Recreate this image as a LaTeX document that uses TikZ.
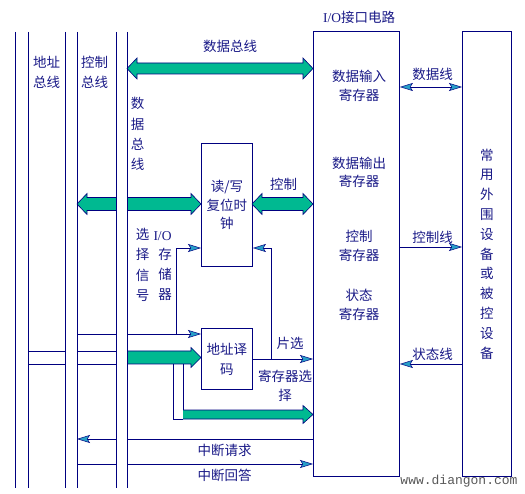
\documentclass[tikz,border=0pt]{standalone}
\usepackage{fontspec}
\setmainfont{Liberation Serif}
\newfontfamily\cjk{Noto Sans CJK SC}
\newfontfamily\wmfont{Liberation Mono}
\usetikzlibrary{arrows.meta}
\definecolor{navy}{RGB}{0,0,128}
\definecolor{txt}{RGB}{25,25,135}
\definecolor{fat}{RGB}{0,185,145}
\definecolor{tipc}{RGB}{40,160,200}
% fat arrows: x1, x2, y, half shaft, half head
\newcommand\myfatR[5]{%
 \fill[fat] (#1,#3-#4) -- (#2-10,#3-#4) -- (#2-10,#3-#5) -- (#2,#3) -- (#2-10,#3+#5) -- (#2-10,#3+#4) -- (#1,#3+#4) -- cycle;
 \draw[fatline] (#1,#3-#4) -- (#2-10,#3-#4) -- (#2-10,#3-#5) -- (#2,#3) -- (#2-10,#3+#5) -- (#2-10,#3+#4) -- (#1,#3+#4);}
\newcommand\myfatL[5]{%
 \fill[fat] (#2,#3-#4) -- (#1+10,#3-#4) -- (#1+10,#3-#5) -- (#1,#3) -- (#1+10,#3+#5) -- (#1+10,#3+#4) -- (#2,#3+#4) -- cycle;
 \draw[fatline] (#2,#3-#4) -- (#1+10,#3-#4) -- (#1+10,#3-#5) -- (#1,#3) -- (#1+10,#3+#5) -- (#1+10,#3+#4) -- (#2,#3+#4);}
\newcommand\myfatD[5]{%
 \filldraw[fat, draw=navy, line width=0.6pt] (#1,#3) -- (#1+10,#3-#5) -- (#1+10,#3-#4) -- (#2-10,#3-#4) -- (#2-10,#3-#5) -- (#2,#3) -- (#2-10,#3+#5) -- (#2-10,#3+#4) -- (#1+10,#3+#4) -- (#1+10,#3+#5) -- cycle;}
\begin{document}
\begin{tikzpicture}[x=1pt,y=-1pt,
  bus/.style={navy, line width=0.9pt},
  wire/.style={navy, line width=0.9pt},
  fatline/.style={navy, line width=0.6pt},
  box/.style={draw=navy, line width=0.9pt, rectangle, inner sep=0pt, anchor=north west, text=txt},
  lbl/.style={text=txt, font=\cjk\fontsize{13.5}{15}\selectfont, inner sep=0pt},
  vlbl/.style={lbl, align=center},
  smalltip/.tip={Stealth[length=13pt,width=8pt,inset=2.5pt,fill=tipc,line width=0.5pt]},
  tip/.style={-smalltip},
  dtip/.style={smalltip-smalltip},
]
\fill[white] (0,0) rectangle (525,494);
\useasboundingbox (0,0) rectangle (525,494);

% boxes
\node[box, minimum width=51pt, minimum height=123pt, align=center,
      font=\cjk\fontsize{13.5}{18.5}\selectfont] (rw) at (201,143) {读/写\\复位时\\钟};
\node[box, minimum width=51pt, minimum height=61pt, align=center,
      font=\cjk\fontsize{13.5}{20}\selectfont] (ad) at (201,328) {地址译\\码};
\node[box, minimum width=86pt, minimum height=445pt] (io) at (313,31) {};
\node[box, minimum width=49pt, minimum height=445pt, align=center,
      font=\cjk\fontsize{13.5}{19.8}\selectfont] (pe) at (462,31)
      {常\\用\\外\\围\\设\\备\\或\\被\\控\\设\\备};

% fat arrows
\myfatD{127}{313}{68.5}{5.5}{10.5}
\myfatL{77}{116}{204}{6.5}{10.5}
\myfatR{127}{201}{204}{6.5}{10.5}
\myfatD{252}{313}{204}{6.5}{10.5}
\myfatR{127}{201}{357.5}{6.5}{10}
\myfatR{183}{313}{414.5}{4.5}{9}

% address branch outline
\draw[wire] (28,351) -- (65,351) (28,364) -- (65,364);
\draw[wire] (77,351) -- (116,351) (77,364) -- (116,364);
\draw[wire] (173,364) -- (173,419) -- (183,419);
\draw[wire] (183,364) -- (183,410);

% I/O - memory select
\draw[wire] (77,334) -- (116,334);
\draw[wire,tip] (127,334) -- (ad.west |- 0,334);
\draw[wire,tip] (176,334) -- (176,248) -- (rw.west |- 0,248);

% chip select / register select
\draw[wire,tip] (ad.east |- 0,359) -- (io.west |- 0,359);
\draw[wire,tip] (271,359) -- (271,248) -- (rw.east |- 0,248);

% interrupts
\draw[wire] (io.west |- 0,439) -- (127,439);
\draw[wire,tip] (116,439) -- (77,439);
\draw[wire] (77,464) -- (116,464);
\draw[wire,tip] (127,464) -- (io.west |- 0,464);

% peripheral lines
\draw[wire,dtip] (io.east |- 0,87) -- (pe.west |- 0,87);
\draw[wire,tip] (io.east |- 0,247) -- (pe.west |- 0,247);
\draw[wire,tip] (pe.west |- 0,364) -- (io.east |- 0,364);

% bus lines
\foreach \bx in {15,28,65,77,116,127}
  \draw[bus] (\bx,32) -- (\bx,488);

% labels
\node[vlbl, font=\cjk\fontsize{13.5}{20}\selectfont] (labA) at (46.5,72) {地址\\总线};
\node[vlbl, font=\cjk\fontsize{13.5}{20}\selectfont] (labC) at (94.5,72) {控制\\总线};
\node[vlbl, font=\cjk\fontsize{13.5}{20.3}\selectfont] (labD) at (137.5,134) {数\\据\\总\\线};
\node[lbl] (labDT) at (230,46.5) {数据总线};
\node[lbl] (labIO) at (359,17.5) {{\rmfamily I/O}接口电路};
\node[vlbl, font=\cjk\fontsize{13.5}{20.5}\selectfont] (labSel) at (142.5,265) {选\\择\\信\\号};
\node[lbl] (labIOm) at (162.5,236) {\rmfamily I/O};
\node[vlbl, font=\cjk\fontsize{13.5}{20}\selectfont] (labMem) at (165,274.5) {存\\储\\器};
\node[lbl] (labCtl) at (283.5,184.5) {控制};
\node[lbl] (labCS) at (290,343.5) {片选};
\node[vlbl, font=\cjk\fontsize{13.5}{18.5}\selectfont] (labRS) at (285,386) {寄存器选\\择};
\node[lbl] (labIR) at (224.5,450.5) {中断请求};
\node[lbl] (labIA) at (224.5,475) {中断回答};
\node[vlbl, font=\cjk\fontsize{13.5}{18.5}\selectfont] (r1) at (359,86) {数据输入\\寄存器};
\node[vlbl, font=\cjk\fontsize{13.5}{18.5}\selectfont] (r2) at (359,172.5) {数据输出\\寄存器};
\node[vlbl, font=\cjk\fontsize{13.5}{19}\selectfont] (r3) at (359,245.5) {控制\\寄存器};
\node[vlbl, font=\cjk\fontsize{13.5}{18.5}\selectfont] (r4) at (359,305) {状态\\寄存器};
\node[lbl] (labDL) at (432.5,74.5) {数据线};
\node[lbl] (labCL) at (432.5,237.5) {控制线};
\node[lbl] (labSL) at (432.5,354.5) {状态线};
\node[text=gray!70!black, font=\wmfont\fontsize{13}{13}\selectfont, inner sep=0pt] (wm) at (459,481) {www.diangon.com};
\end{tikzpicture}
\end{document}
